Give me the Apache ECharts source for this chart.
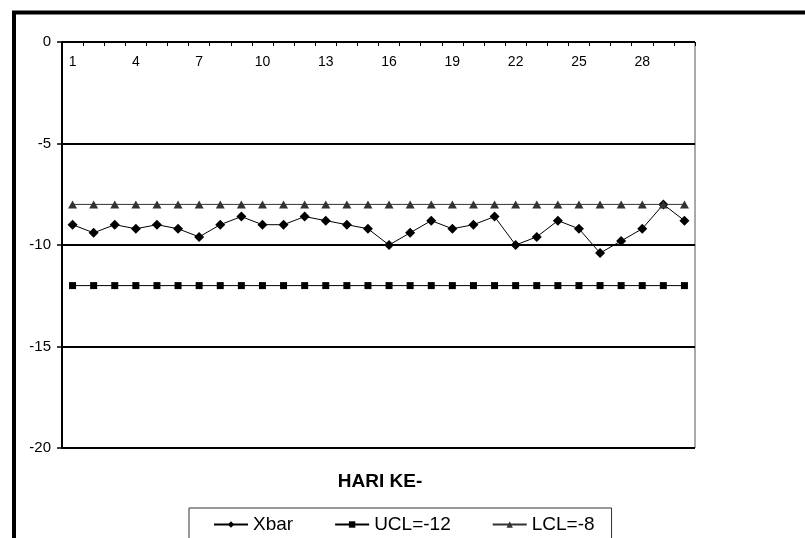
<!DOCTYPE html>
<html>
<head>
<meta charset="utf-8">
<script src="https://cdn.jsdelivr.net/npm/echarts@6/dist/echarts.min.js"></script>
<style>
html,body{margin:0;padding:0;background:#fff;}
#c{width:805px;height:538px;}
</style>
</head>
<body>
<div id="c"></div>
<script>
var categories = ['1','2','3','4','5','6','7','8','9','10','11','12','13','14','15','16','17','18','19','20','21','22','23','24','25','26','27','28','29','30'];
var xbar = [-9.0,-9.4,-9.0,-9.2,-9.0,-9.2,-9.6,-9.0,-8.6,-9.0,-9.0,-8.6,-8.8,-9.0,-9.2,-10.0,-9.4,-8.8,-9.2,-9.0,-8.6,-10.0,-9.6,-8.8,-9.2,-10.4,-9.8,-9.2,-8.0,-8.8];
var ucl = [-12,-12,-12,-12,-12,-12,-12,-12,-12,-12,-12,-12,-12,-12,-12,-12,-12,-12,-12,-12,-12,-12,-12,-12,-12,-12,-12,-12,-12,-12];
var lcl = [-8,-8,-8,-8,-8,-8,-8,-8,-8,-8,-8,-8,-8,-8,-8,-8,-8,-8,-8,-8,-8,-8,-8,-8,-8,-8,-8,-8,-8,-8];
var seriesNames = ['Xbar','UCL=-12','LCL=-8'];
var axisTitle = 'HARI KE-';
var yMin = -20, yMax = 0, yStep = 5;

var FONT = "'Liberation Sans', Arial, Helvetica, sans-serif";
var chart = echarts.init(document.getElementById('c'), null, {renderer:'canvas'});
chart.setOption({
  animation: false,
  backgroundColor: '#ffffff',
  textStyle: {fontFamily: FONT, color: '#000'},
  grid: {left: 62, right: 110, top: 42, bottom: 90, show: true, borderColor: '#555', borderWidth: 1, backgroundColor: 'transparent'},
  graphic: [
    {type: 'rect', silent: true, z: 100, shape: {x: 14, y: 12.5, width: 1000, height: 800},
     style: {fill: 'none', stroke: '#000', lineWidth: 4}},
    {type: 'text', silent: true, x: 380, y: 482,
     style: {text: axisTitle, fill: '#000', font: 'bold 19px ' + FONT, textAlign: 'center', textVerticalAlign: 'middle'}}
  ],
  legend: {
    data: seriesNames,
    left: 189, top: 508,
    padding: [7, 17, 12, 24],
    itemWidth: 34, itemHeight: 8, itemGap: 41,
    borderColor: '#333', borderWidth: 1,
    textStyle: {fontSize: 19, color: '#000', fontFamily: FONT}
  },
  xAxis: {
    type: 'category',
    data: categories,
    position: 'top',
    boundaryGap: true,
    axisLine: {show: true, onZero: false, lineStyle: {color: '#000', width: 1}},
    axisTick: {show: true, inside: true, length: 4, interval: 0, lineStyle: {color: '#000'}},
    axisLabel: {inside: true, interval: 2, margin: 13, fontSize: 14, color: '#000', fontFamily: FONT},
    splitLine: {show: false}
  },
  yAxis: {
    type: 'value',
    min: yMin, max: yMax, interval: yStep,
    axisLine: {show: true, onZero: false, lineStyle: {color: '#000', width: 2}},
    axisTick: {show: true, inside: false, length: 5, lineStyle: {color: '#000', width: 1.5}},
    axisLabel: {fontSize: 15, color: '#000', margin: 11, fontFamily: FONT},
    splitLine: {show: true, lineStyle: {color: '#000', width: 2}}
  },
  series: [
    {name: seriesNames[0], type: 'line', data: xbar, symbol: 'diamond', symbolSize: 10,
     itemStyle: {color: '#000'}, lineStyle: {color: '#000', width: 1}, z: 3},
    {name: seriesNames[1], type: 'line', data: ucl, symbol: 'rect', symbolSize: 7,
     itemStyle: {color: '#000'}, lineStyle: {color: '#000', width: 1}, z: 3},
    {name: seriesNames[2], type: 'line', data: lcl, symbol: 'triangle', symbolSize: [9, 8],
     itemStyle: {color: '#333'}, lineStyle: {color: '#333', width: 1}, z: 4}
  ]
});
</script>
</body>
</html>
